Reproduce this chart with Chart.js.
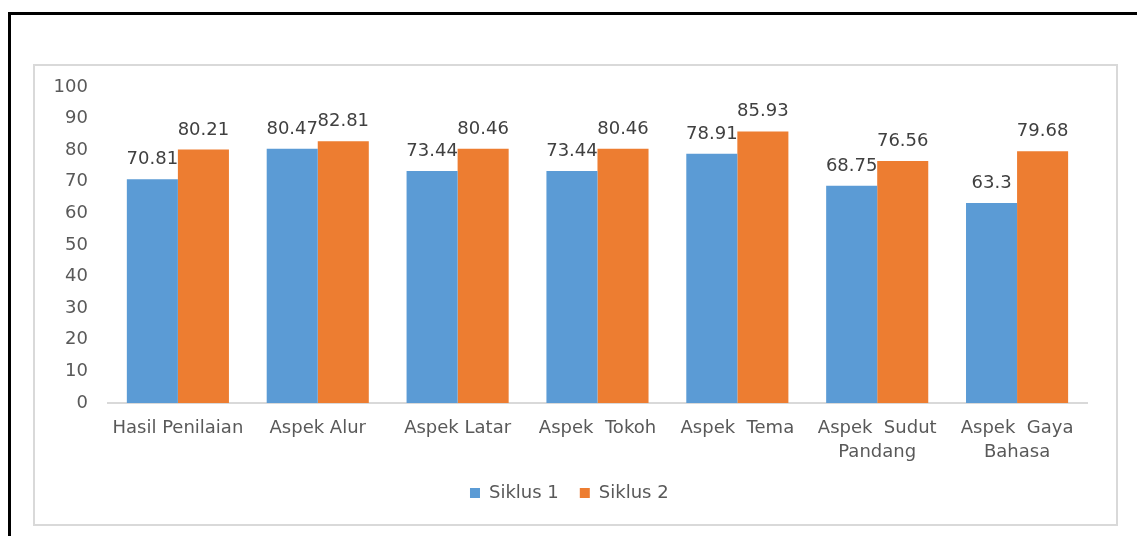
<!DOCTYPE html>
<html>
<head>
<meta charset="utf-8">
<script src="https://cdn.jsdelivr.net/npm/chart.js@4/dist/chart.umd.min.js"></script>
<style>
  body { margin: 0; background: #fff; width: 1137px; height: 536px; overflow: hidden; position: relative; }
  #frame { position: absolute; left: 8px; top: 12px; right: 0; bottom: 0; border-left: 3px solid #000; border-top: 3px solid #000; }
  #box { position: absolute; left: 33px; top: 64px; width: 1081px; height: 458px; border: 2px solid #d9d9d9; }
  #box canvas { display: block; }
</style>
</head>
<body>
<div id="frame"></div>
<div id="box"><canvas id="barChart" width="1081" height="458"></canvas></div>
<script>
// ===============================
// DATA
// ===============================
const categories = [
  "Hasil Penilaian",
  "Aspek Alur",
  "Aspek Latar",
  "Aspek  Tokoh",
  "Aspek  Tema",
  ["Aspek  Sudut", "Pandang"],
  ["Aspek  Gaya", "Bahasa"]
]
const siklus1 = [70.81, 80.47, 73.44, 73.44, 78.91, 68.75, 63.3]
const siklus2 = [80.21, 82.81, 80.46, 80.46, 85.93, 76.56, 79.68]
const yTicks = [0, 10, 20, 30, 40, 50, 60, 70, 80, 90, 100]

const TEXT = "#595959"
const FONT = "'DejaVu Sans', sans-serif"

// ===============================
// VALUE LABELS (above each bar)
// ===============================
const valueLabels = {
  id: "valueLabels",
  afterDatasetsDraw(chart) {
    const ctx = chart.ctx
    ctx.save()
    ctx.font = "18px " + FONT
    ctx.fillStyle = "#404040"
    ctx.textAlign = "center"
    ctx.textBaseline = "alphabetic"
    chart.data.datasets.forEach((ds, i) => {
      const meta = chart.getDatasetMeta(i)
      meta.data.forEach((bar, j) => {
        ctx.fillText(String(ds.data[j]), bar.x, bar.y - 15)
      })
    })
    ctx.restore()
  }
}

// ===============================
// CREATE CHART
// ===============================
const ctx = document.getElementById("barChart").getContext("2d")

new Chart(ctx, {
  type: "bar",
  data: {
    labels: categories,
    datasets: [
      { label: "Siklus 1", data: siklus1, backgroundColor: "#5b9bd5" },
      { label: "Siklus 2", data: siklus2, backgroundColor: "#ed7d31" }
    ]
  },
  options: {
    responsive: false,
    animation: false,
    categoryPercentage: 0.73,
    barPercentage: 1.0,
    layout: { padding: { left: 16.6, right: 29, top: 21, bottom: 12 } },
    plugins: {
      legend: {
        position: "bottom",
        labels: {
          boxWidth: 10,
          boxHeight: 10,
          padding: 21,
          color: TEXT,
          font: { family: FONT, size: 18 }
        }
      },
      tooltip: { enabled: false }
    },
    scales: {
      x: {
        grid: { display: false, drawTicks: false },
        border: { display: true, color: "#d9d9d9", width: 2 },
        ticks: {
          color: TEXT,
          maxRotation: 0,
          autoSkip: false,
          padding: 13,
          font: { family: FONT, size: 18, lineHeight: 1.333 }
        },
        afterFit: axis => { axis.height = 60 }
      },
      y: {
        min: 0,
        max: 100,
        afterBuildTicks: axis => { axis.ticks = yTicks.map(v => ({ value: v })) },
        // hidden tick marks give the gap between labels and bars
        grid: { display: false, drawTicks: true, tickLength: 18 },
        border: { display: false },
        ticks: {
          color: TEXT,
          padding: 2,
          font: { family: FONT, size: 18 }
        }
      }
    }
  },
  plugins: [valueLabels]
})
</script>
</body>
</html>
